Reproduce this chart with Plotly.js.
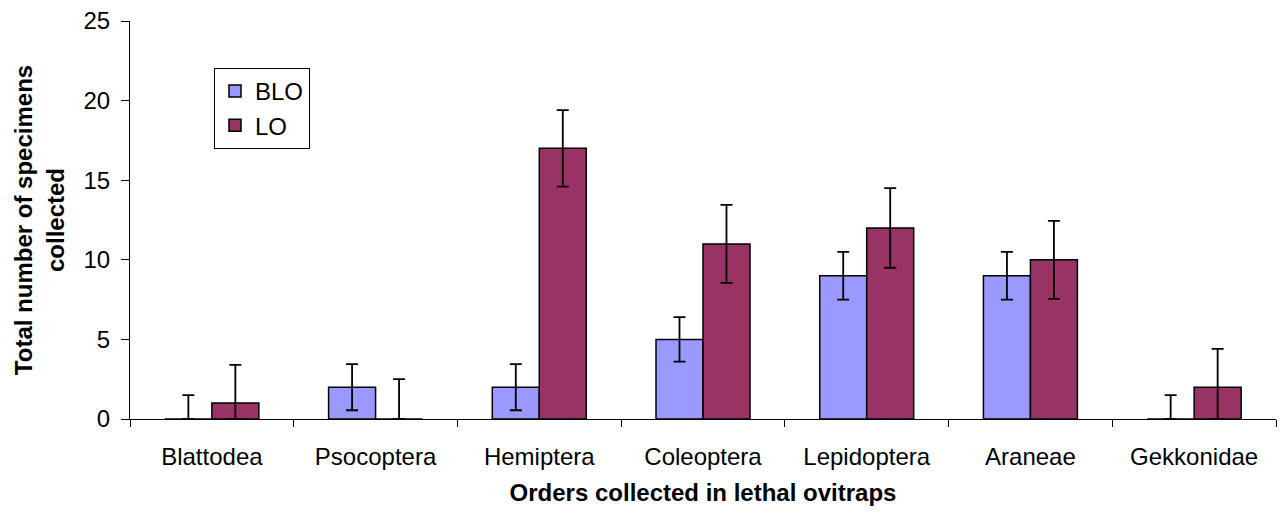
<!DOCTYPE html>
<html>
<head>
<meta charset="utf-8">
<script src="https://cdn.plot.ly/plotly-3.0.1.min.js"></script>
<style>html,body{margin:0;padding:0;background:#fff;}#chart{width:1285px;height:515px;}</style>
</head>
<body>
<div id="chart"></div>
<script>
const categories = ["Blattodea", "Psocoptera", "Hemiptera", "Coleoptera", "Lepidoptera", "Araneae", "Gekkonidae"];
const bloValues = [0, 2, 2, 5, 9, 9, 0];
const loValues = [1, 0, 17, 11, 12, 10, 2];
const bloErr = [1.5, 1.45, 1.45, 1.4, 1.5, 1.5, 1.5];
const loErr = [2.4, 2.5, 2.4, 2.45, 2.5, 2.45, 2.4];
const yTicks = [0, 5, 10, 15, 20, 25];

function minusErr(vals, errs) { return vals.map((v, i) => Math.min(v, errs[i])); }

const font = "Liberation Sans, Arial, sans-serif";
const errStyle = {type: "data", symmetric: false, color: "#000", thickness: 1.8, width: 6};

const traces = [
  {type: "bar", name: "BLO", x: categories, y: bloValues,
   marker: {color: "#9999FF", line: {color: "#000", width: 1.5}},
   error_y: Object.assign({array: bloErr, arrayminus: minusErr(bloValues, bloErr)}, errStyle)},
  {type: "bar", name: "LO", x: categories, y: loValues,
   marker: {color: "#993366", line: {color: "#000", width: 1.5}},
   error_y: Object.assign({array: loErr, arrayminus: minusErr(loValues, loErr)}, errStyle)}
];

const layout = {
  width: 1285, height: 515,
  margin: {l: 130, r: 9, t: 21, b: 95.5},
  paper_bgcolor: "#fff", plot_bgcolor: "#fff",
  barmode: "group", bargap: 0.426, bargroupgap: 0,
  font: {family: font, color: "#000", size: 24},
  showlegend: true,
  legend: {x: 0.0733, y: 0.882, xanchor: "left", yanchor: "top",
           bordercolor: "#000", borderwidth: 1, bgcolor: "#fff",
           font: {family: font, size: 24, color: "#000"}},
  xaxis: {
    showline: true, linecolor: "#000", linewidth: 1,
    ticks: "outside", tickson: "boundaries", ticklen: 7, tickcolor: "#000",
    ticklabelstandoff: 16,
    tickfont: {family: font, size: 24}, showgrid: false,
    title: {text: "<b>Orders collected in lethal ovitraps</b>", font: {family: font, size: 24}, standoff: 15}
  },
  yaxis: {
    range: [0, 25], tickvals: yTicks, ticktext: yTicks.map(String),
    showline: true, linecolor: "#000", linewidth: 1,
    ticks: "outside", ticklen: 8, tickcolor: "#000",
    ticklabelstandoff: 6,
    tickfont: {family: font, size: 24}, showgrid: false, zeroline: false,
    title: {text: "<b>Total number of specimens<br>collected</b>", font: {family: font, size: 24}, standoff: 12}
  }
};

Plotly.newPlot("chart", traces, layout, {displayModeBar: false, staticPlot: true});
</script>
</body>
</html>
